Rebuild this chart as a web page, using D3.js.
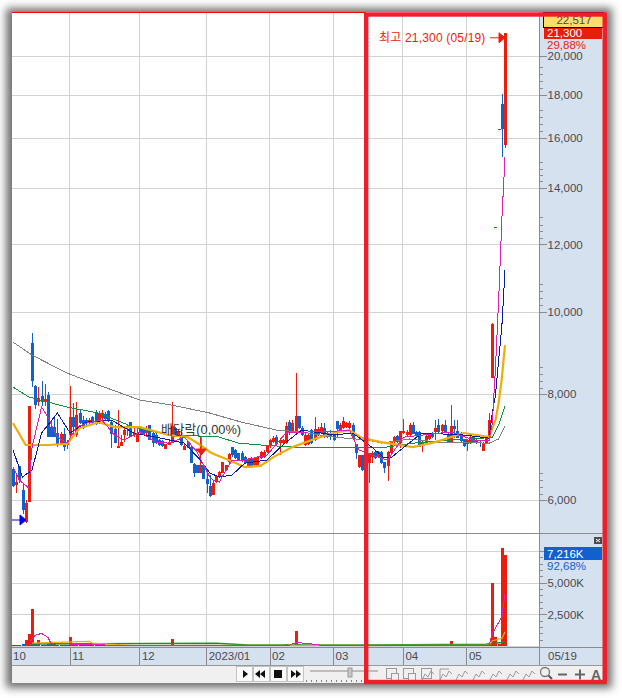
<!DOCTYPE html>
<html><head><meta charset="utf-8">
<script src="https://cdn.jsdelivr.net/npm/d3@7/dist/d3.min.js"></script>
<style>html,body{margin:0;padding:0;background:#fff;overflow:hidden}svg{display:block}
text{font-family:"Liberation Sans","Noto Sans CJK KR",sans-serif}</style></head><body><div id="c"></div>
<script>
const opens=[6525,6250,6580,6165,5655,5970,9180,8170,7825,7950,7825,7975,7310,7310,7195,6985,7175,6965,7155,7515,7155,7595,7450,7450,7390,7515,7615,7390,7495,7575,7635,7410,7270,6910,6945,7155,7295,7410,7155,7020,7295,7270,7195,7350,7195,7155,7060,7040,6890,6965,7000,7295,7155,7115,6870,7020,6925,6615,6600,6455,6600,6350,6230,6080,6300,6385,6455,6510,6650,6925,6870,6815,6815,6740,6560,6725,6600,6580,6725,6740,6835,6945,7020,7115,7000,7000,7000,7410,7195,7195,7535,7295,6965,6985,7250,7060,7155,7195,7295,7195,7195,7155,7430,7250,7295,7310,7295,7350,6985,6560,6780,6470,6630,6740,6835,6740,6835,6650,6580,6815,7020,7135,7000,7195,7155,7155,7350,7215,7215,6965,7000,7080,7195,7215,7350,7235,7350,7155,7020,7330,7235,7195,7060,6985,7000,7115,7060,7020,6850,7000,7115,8350,12580,16400,17550,15700];
const highs=[6560,6455,6580,6280,6000,7740,9434,8195,8150,8285,8215,8040,7450,7515,7475,7215,7295,7060,8170,7805,7825,7680,7535,7495,7495,7535,7655,7635,7655,7615,7655,7450,7350,7655,7155,7310,7370,7410,7310,7330,7330,7310,7330,7350,7215,7195,7080,7060,6985,7040,7825,7310,7270,7250,7000,7040,6945,6630,6600,7115,6615,6505,6420,6335,6405,6490,6650,6600,6815,6925,6890,6815,6850,6760,6720,6740,6740,6760,6850,6870,6965,7080,7135,7155,7095,7080,7410,7453,7450,8465,7535,7330,7195,7195,7270,7515,7310,7390,7390,7235,7250,7175,7430,7390,7515,7410,7430,7390,6985,6780,6780,6815,6815,6850,6850,6850,6850,6650,6850,7020,7135,7155,7235,7475,7250,7390,7410,7235,7235,7040,7155,7175,7215,7450,7475,7370,7450,7215,7760,7450,7450,7215,7060,7080,7135,7135,7080,7040,7020,7135,7595,9700,12580,16400,18030,21300];
const lows=[6215,6115,6280,5775,5640,5970,8150,7680,7740,7740,7740,7115,7115,7115,6925,6965,6850,6890,7115,7135,7115,7370,7270,7310,7370,7370,7350,7370,7450,7450,7410,6910,7000,6910,6945,7020,7135,7115,7115,7020,7155,7155,7115,7060,6925,6985,6945,6925,6890,6965,7000,7115,7135,6945,6870,6910,6630,6385,6455,6455,6350,6115,6050,6080,6280,6385,6455,6510,6630,6740,6700,6670,6650,6610,6540,6560,6580,6580,6700,6725,6815,6900,7000,6965,6780,6985,6985,7155,7195,7195,7270,7135,6945,6965,6985,7040,7135,7175,7095,7095,7060,7040,7095,7215,7270,7295,7270,7080,6705,6540,6490,6450,6280,6630,6700,6725,6610,6455,6315,6815,7000,7000,6910,7175,7135,7135,7175,7115,6925,6835,6965,7060,7095,7060,7195,7215,7195,7000,7000,7095,7095,7020,6925,6850,6985,7000,6985,6925,6850,6985,7095,8350,12580,16400,15200,15600];
const closes=[6230,6300,6335,5840,5950,7740,8285,7760,7910,7825,7890,7115,7115,7115,6985,7175,6925,7020,7515,7310,7555,7390,7295,7390,7450,7390,7370,7575,7595,7475,7450,7175,7000,6945,7020,7250,7330,7115,7195,7195,7195,7175,7250,7060,7000,7000,6965,6945,6985,7020,7330,7115,7235,6965,6945,6910,6630,6455,6455,6600,6350,6265,6065,6280,6405,6470,6650,6600,6795,6780,6725,6685,6685,6630,6705,6580,6725,6740,6835,6835,6965,7060,7095,6985,7060,7060,7330,7195,7390,7535,7295,7155,7155,7155,7000,7270,7270,7310,7115,7115,7115,7060,7270,7350,7430,7390,7390,7095,6815,6780,6510,6780,6815,6815,6725,6835,6630,6540,6835,7020,7115,7020,7235,7235,7215,7350,7175,7135,6925,7020,7135,7155,7115,7295,7215,7350,7215,7020,7330,7270,7095,7040,6945,7060,7115,7020,7020,7000,7000,7115,7453,9680,12580,16400,16400,21300];
const volumes=[60,50,60,180,470,930,2950,260,470,110,90,180,300,120,90,70,90,60,700,180,160,90,70,60,50,60,80,90,70,50,60,110,90,120,70,60,50,70,50,60,50,40,40,60,70,50,40,40,50,40,540,110,60,70,50,50,80,70,50,60,70,50,60,50,40,40,60,40,50,60,40,40,40,50,50,40,50,60,40,40,60,70,40,50,60,40,140,100,90,1170,170,80,60,50,60,70,50,40,50,40,40,50,50,40,60,40,40,60,90,80,90,70,90,50,40,40,50,40,70,80,50,40,60,70,40,50,60,40,60,40,50,40,40,50,50,40,50,40,370,90,60,50,40,40,50,40,40,30,40,50,120,5000,700,150,7770,7216];
const ma5Idx=[0,2,5,6,9,11,14,17,20,23,28,32,35,40,45,49,54,58,62,63,65,69,73,76,80,86,93,98,106,109,115,118,123,129,138,145,150,151,152,153,154,155];
const ma5=[6560,6334,6197,6925,7720,7515,7115,7000,7310,7390,7453,7156,7060,7215,7020,7000,7115,6835,6385,6334,6300,6687,6687,6725,6778,7195,7215,7215,7253,6871,6740,6687,7115,7156,7215,7060,7060,7390,8590,10318,12815,15200];
const ma20Idx=[0,3,6,9,14,18,23,31,38,45,54,59,62,65,69,73,80,86,91,101,107,113,117,119,126,129,142,150,151,152,153,154,155];
const ma20=[6871,6385,6508,7195,7595,7195,7410,7453,7195,7115,7000,6687,6455,6385,6420,6630,6687,7020,7253,7156,7195,6925,6725,6725,7060,7195,7156,7095,7595,7975,8768,9590,11190];
const ma60Idx=[0,4,11,17,21,27,32,40,49,55,59,62,64,68,73,78,82,88,95,101,106,110,116,126,133,142,150,152,153,154,155];
const ma60=[7390,6965,6965,6985,7290,7410,7310,7310,7156,7115,6965,6835,6778,6687,6560,6580,6740,6925,7080,7195,7253,7095,7020,6925,7020,7195,7115,7453,7805,8350,9132];
const ma120Idx=[0,5,17,27,38,49,59,64,71,78,93,101,116,126,138,148,151,153,155];
const ma120=[8150,7933,7720,7595,7310,7156,7135,7135,7000,6965,6910,6910,6910,7000,7060,7095,7115,7352,7740];
const ma240Idx=[0,6,17,27,40,50,62,72,83,91,101,112,116,125,134,150,153,155];
const ma240=[9207,8888,8465,8194,7868,7762,7595,7410,7253,7215,7115,7060,7000,7080,7020,7000,7080,7330];
const vma5Idx=[5,7,9,11,12,33,87,89,93,97,150,151,154,155];
const vma5=[200,860,990,680,200,50,50,260,210,50,50,990,2290,4110];
const vma20Idx=[6,24,25,38,75,150,151,154,155];
const vma20=[230,365,230,40,50,60,415,600,1115];
const vma60Idx=[5,64,74,111,149,154,155];
const vma60=[155,210,80,80,130,280,335];
const priceTicks=[6000,8000,10000,12000,14000,16000,18000,20000];
const priceMinor=[6095,6210,6335,6455,8128,8285,8442,8610,10178,10373,10571,10774,12204,12439,12652,12918,14255,14488,14740,15000,16310,16620,16950,17270,18325,18680,19050,19430];
const volTicks=[2500,5000,7500];
const volMinor=[500,1000,1500,2000,3000,3500,4000,4500,5500,6000,6500,7000];
const monthIdx=[18,40,61,81,101,123,143];
const monthLabels=["11","12","2023/01","02","03","04","05"];
const firstLabel="10", lastLabel="05/19";
const highLabel="최고 21,300 (05/19)", exLabel="배당락(0,00%)";
const priceBox="22,517", lastBox="21,300", pctBox="29,88%", volBox="7,216K", volPct="92,68%";

const W=622,H=698,RED="#ee1c0c",BLUE="#1060d0",TXT="#4a4a50",GRID="#d2d2d2",PANEL="#d6e1ef",FRAME="#ee1f2b";
const n=opens.length;
const svg=d3.select("#c").append("svg").attr("width",W).attr("height",H);
const defs=svg.append("defs");
defs.append("filter").attr("id","sh").attr("x","-5%").attr("y","-5%").attr("width","110%").attr("height","110%")
  .append("feGaussianBlur").attr("stdDeviation",4);
const x=d3.scalePoint().domain(d3.range(n)).range([13,505]);
const y=d3.scaleLog().domain([6000,20000]).range([500,56]);
const yv=d3.scaleLinear().domain([0,7500]).range([646,551]);

svg.append("rect").attr("x",6).attr("y",8).attr("width",606).attr("height",680).attr("fill","#707070").attr("filter","url(#sh)");
svg.append("rect").attr("x",12).attr("y",12).attr("width",593).attr("height",671).attr("fill","#fff");
svg.append("rect").attr("x",539).attr("y",12).attr("width",66).attr("height",654).attr("fill",PANEL);

// grid
const grid=svg.append("g").attr("stroke",GRID).attr("shape-rendering","crispEdges");
grid.selectAll(".v").data(monthIdx).join("line").attr("x1",d=>Math.round(x(d))-.5).attr("x2",d=>Math.round(x(d))-.5).attr("y1",13).attr("y2",647);
grid.selectAll(".h").data(priceTicks).join("line").attr("x1",12).attr("x2",539).attr("y1",d=>Math.round(y(d))+.5).attr("y2",d=>Math.round(y(d))+.5);
grid.selectAll(".hv").data(volTicks).join("line").attr("x1",12).attr("x2",539).attr("y1",d=>Math.round(yv(d))+.5).attr("y2",d=>Math.round(yv(d))+.5);
grid.append("line").attr("x1",12).attr("x2",539).attr("y1",646.5).attr("y2",646.5);

// candles
const c=svg.append("g").attr("shape-rendering","crispEdges");
const idx=d3.range(n);
const col=i=>closes[i]>=opens[i]?RED:BLUE;
c.selectAll(".w").data(idx).join("line").attr("x1",i=>Math.round(x(i))+.5).attr("x2",i=>Math.round(x(i))+.5)
  .attr("y1",i=>y(highs[i])).attr("y2",i=>y(lows[i])).attr("stroke",col);
c.selectAll(".b").data(idx).join("rect").attr("x",i=>Math.round(x(i))-1).attr("width",3)
  .attr("y",i=>Math.min(y(opens[i]),y(closes[i])))
  .attr("height",i=>Math.max(1,Math.abs(y(opens[i])-y(closes[i])))).attr("fill",col);

// moving averages
const drawMA=(xs,vs,sc,color,w)=>svg.append("path").attr("fill","none").attr("stroke",color).attr("stroke-width",w)
  .attr("shape-rendering",w>1?"auto":"crispEdges")
  .attr("d",d3.line().x((d,i)=>x(xs[i])).y(d=>sc(d))(vs));
drawMA(ma240Idx,ma240,y,"#808080",1);
drawMA(ma120Idx,ma120,y,"#109040",1);
drawMA(ma60Idx,ma60,y,"#f0ac0a",2.2);
drawMA(ma20Idx,ma20,y,"#0a1fa0",1);
drawMA(ma5Idx,ma5,y,"#e020b0",1);

// annotations
const hx=x(n-1), hy=y(d3.max(highs));
svg.append("text").attr("x",379).attr("y",hy+9).attr("font-size",12).attr("letter-spacing",.18).attr("fill",RED).text(highLabel);
svg.append("path").attr("stroke",RED).attr("fill",RED).attr("d",`M${hx-15},${hy+5}H${hx-6}M${hx-6},${hy}L${hx},${hy+5}L${hx-6},${hy+10}Z`);
svg.append("text").attr("x",161).attr("y",434).attr("font-size",12.8).attr("fill","#333").text(exLabel);
const exX=x(59)+1;
svg.append("path").attr("stroke",RED).attr("fill",RED).attr("d",`M${exX},${y(highs[59])}V449M${exX-5},449H${exX+5}L${exX},455Z`);
const loX=x(3), loY=520;
svg.append("path").attr("stroke","#0000ee").attr("fill","#0000ee").attr("d",`M12,${loY}H20M20,${loY-5}L26,${loY}L20,${loY+5}Z`);

// volume bars
const v=svg.append("g").attr("shape-rendering","crispEdges");
v.selectAll("rect").data(idx).join("rect").attr("x",i=>Math.round(x(i))-1).attr("width",3)
  .attr("y",i=>yv(volumes[i])).attr("height",i=>yv(0)-yv(volumes[i]))
  .attr("fill",i=>i==0||closes[i]>=closes[i-1]?RED:BLUE);
drawMA(vma60Idx,vma60,yv,"#109040",1.5);
drawMA(vma20Idx,vma20,yv,"#f0ac0a",1.2);
drawMA(vma5Idx,vma5,yv,"#e020b0",1);

// right axes
const styleAxis=g=>{g.select(".domain").remove();g.selectAll("line").attr("stroke","#8c8c8c").attr("shape-rendering","crispEdges");
  g.selectAll("text").attr("fill",TXT).attr("font-size",11.5).attr("font-family","'Liberation Sans',sans-serif");};
svg.append("g").attr("transform","translate(539.5,0)").call(d3.axisRight(y).tickValues(priceTicks).tickFormat(d3.format(",")).tickSize(7).tickPadding(1)).call(styleAxis);
svg.append("g").attr("transform","translate(539.5,0)").call(d3.axisRight(y).tickValues(priceMinor).tickFormat("").tickSize(3)).call(styleAxis);
svg.append("g").attr("transform","translate(539.5,0)").call(d3.axisRight(yv).tickValues(volTicks).tickFormat(d=>d3.format(",")(d)+"K").tickSize(7).tickPadding(1)).call(styleAxis);
svg.append("g").attr("transform","translate(539.5,0)").call(d3.axisRight(yv).tickValues(volMinor).tickFormat("").tickSize(3)).call(styleAxis);
svg.append("line").attr("x1",539.5).attr("x2",539.5).attr("y1",12).attr("y2",647).attr("stroke","#8c8c8c");
svg.append("line").attr("x1",12).attr("x2",605).attr("y1",533.5).attr("y2",533.5).attr("stroke","#8c8c8c");

// x axis band
svg.append("rect").attr("x",12).attr("y",647).attr("width",593).attr("height",19).attr("fill",PANEL);
svg.append("rect").attr("x",12).attr("y",666).attr("width",593).attr("height",17).attr("fill","#f0f0f0");
const xa=svg.append("g").attr("transform","translate(-.5,647)").call(d3.axisBottom(x).tickValues(monthIdx).tickFormat((d,i)=>monthLabels[i]).tickSize(19).tickPadding(0));
xa.select(".domain").remove();
xa.selectAll("line").attr("stroke","#8c8c8c").attr("shape-rendering","crispEdges");
xa.selectAll("text").attr("text-anchor","start").attr("dx",2).attr("dy",0).attr("y",13).attr("font-size",11.5).attr("fill",TXT);
svg.append("text").attr("x",13).attr("y",660).attr("font-size",11.5).attr("fill",TXT).text(firstLabel);
svg.append("text").attr("x",548).attr("y",660).attr("font-size",11.5).attr("fill",TXT).text(lastLabel);
svg.append("line").attr("x1",539.5).attr("x2",539.5).attr("y1",647).attr("y2",666).attr("stroke","#8c8c8c");
svg.append("line").attr("x1",12).attr("x2",605).attr("y1",647.5).attr("y2",647.5).attr("stroke","#8c8c8c");
svg.append("line").attr("x1",12).attr("x2",605).attr("y1",665.5).attr("y2",665.5).attr("stroke","#9a9a9a");

// value boxes
svg.append("rect").attr("x",543.5).attr("y",12.5).attr("width",60).attr("height",15).attr("fill","#ffdc6c").attr("stroke","#111");
svg.append("text").attr("x",574).attr("y",24).attr("text-anchor","middle").attr("font-size",11.5).attr("fill",TXT).text(priceBox);
svg.append("rect").attr("x",544).attr("y",28).attr("width",58).attr("height",11).attr("fill","#ea1c0a");
svg.append("text").attr("x",547).attr("y",37).attr("font-size",11.5).attr("fill","#fff").text(lastBox);
svg.append("text").attr("x",547).attr("y",49).attr("font-size",11.5).attr("fill",RED).text(pctBox);
svg.append("rect").attr("x",544).attr("y",547).attr("width",58).attr("height",13).attr("fill","#1060d0");
svg.append("text").attr("x",547).attr("y",557.5).attr("font-size",11.5).attr("fill","#fff").text(volBox);
svg.append("text").attr("x",547).attr("y",569.5).attr("font-size",11.5).attr("fill","#1060d0").text(volPct);
svg.append("rect").attr("x",594).attr("y",537).attr("width",8).attr("height",7).attr("fill","#4a4a4a");
svg.append("path").attr("d","M596,539L600,542M600,539L596,542").attr("stroke","#fff");

// toolbar
const tb=svg.append("g");
[236,253,270,287].forEach(bx=>tb.append("rect").attr("x",bx+.5).attr("y",666.5).attr("width",16).attr("height",15).attr("fill","#fafafa").attr("stroke","#c4c4c4"));
tb.append("path").attr("fill","#111").attr("d","M243,670L248,674L243,678ZM265,670V678L260,674ZM260,670V678L255,674ZM274,670H282V678H274ZM291,670V678L296,674ZM296,670V678L301,674Z");
tb.append("path").attr("stroke","#bdbdbd").attr("stroke-width",2).attr("d","M310,671H378");
tb.append("path").attr("stroke","#111").attr("stroke-dasharray","1 4").attr("d","M306,681H364");
tb.append("rect").attr("x",348).attr("y",668).attr("width",4).attr("height",9).attr("fill","#c8c8c8").attr("stroke","#999");
[386,403,421,439,455,472,489,506,522].forEach((ix,k)=>{
  const g=tb.append("g").attr("transform",`translate(${ix},668)`).attr("fill","none").attr("stroke","#9a9a9a");
  if(k<3) g.append("rect").attr("x",.5).attr("y",.5).attr("width",10).attr("height",10);
  if(k<2) g.append("rect").attr("x",5.5).attr("y",5.5).attr("width",7).attr("height",7).attr("fill","#f0f0f0");
  if(k>=2) g.append("path").attr("d","M1,12L4,6L7,9L10,3L13,6");
  if(k==3) g.append("path").attr("d","M1,1V13M1,1H10");
});
tb.append("circle").attr("cx",545).attr("cy",672).attr("r",4.5).attr("fill","none").attr("stroke","#777").attr("stroke-width",1.3);
tb.append("path").attr("d","M548.5,675.5L552,679").attr("stroke","#555").attr("stroke-width",2);
tb.append("path").attr("d","M558,674.5H567M575,674.5H585M580,669.5V679.5").attr("stroke","#666").attr("stroke-width",2);
tb.append("text").attr("x",591).attr("y",680).attr("font-size",14).attr("font-weight","bold").attr("fill","#666").text("A");

// red frame
svg.append("line").attr("x1",12).attr("x2",366).attr("y1",12.5).attr("y2",12.5).attr("stroke","#ff0000");
svg.append("rect").attr("x",366.2).attr("y",14.5).attr("width",238.5).attr("height",667.5).attr("fill","none").attr("stroke",FRAME).attr("stroke-width",4.4);
</script></body></html>
